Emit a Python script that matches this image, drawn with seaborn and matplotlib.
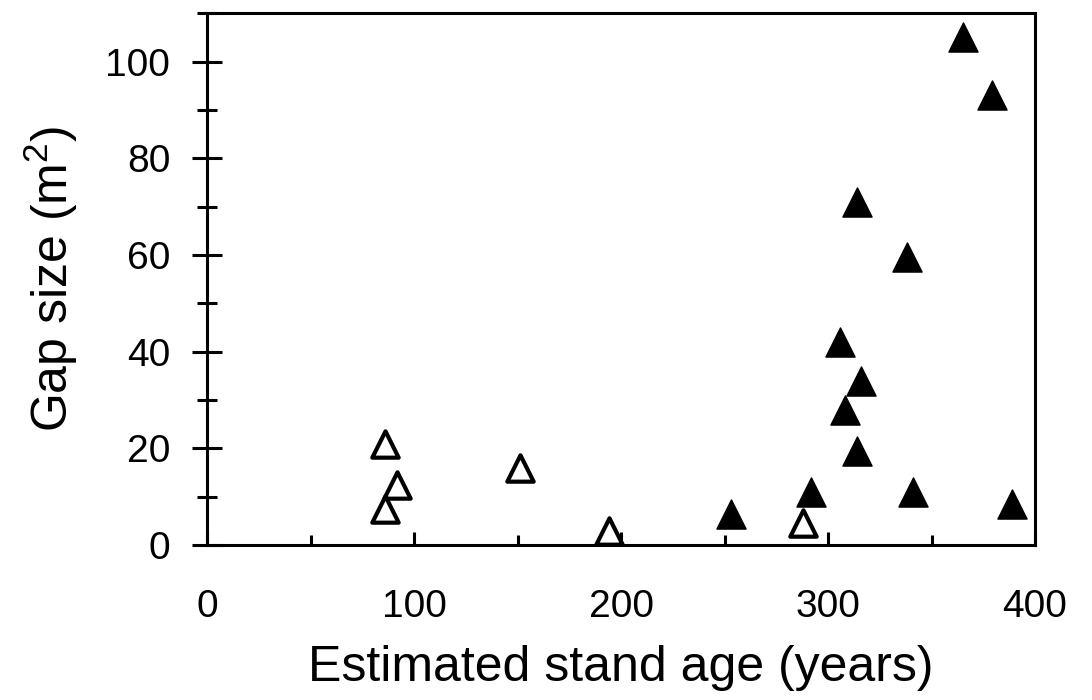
"""
Gap size vs estimated stand age: open triangles (younger stands)
and filled triangles (older stands).
"""
import matplotlib
matplotlib.use('Agg')
import matplotlib.pyplot as plt
from matplotlib.ticker import MultipleLocator
import seaborn as sns

# Datos
open_age = [86, 92, 86, 151, 194, 288]
open_gap = [21, 12.5, 7.5, 16, 3, 4.5]

filled_age = [365, 379, 314, 338, 306, 316, 308, 314, 292, 341, 389, 253]
filled_gap = [105, 93, 71, 59.5, 42, 34, 28, 19.5, 11, 11, 8.5, 6.5]

x_ticks = [0, 100, 200, 300, 400]
y_ticks = [0, 20, 40, 60, 80, 100]

sns.set_style('white')
plt.rcParams['font.family'] = ['Liberation Sans', 'DejaVu Sans']
plt.rcParams['mathtext.default'] = 'regular'
plt.rcParams['text.color'] = 'black'
plt.rcParams['axes.labelcolor'] = 'black'

fig = plt.figure(figsize=(10.92, 7.0), dpi=100)
ax = fig.add_axes([0.1896, 0.2214, 0.9478 - 0.1896, 0.981 - 0.2214])

sns.scatterplot(x=open_age, y=open_gap, marker='^', s=360,
                facecolor='white', edgecolor='black', linewidth=3.0,
                ax=ax, zorder=3, clip_on=False)
sns.scatterplot(x=filled_age, y=filled_gap, marker='^', s=440,
                color='black', edgecolor='black', linewidth=1,
                ax=ax, zorder=3, clip_on=False)

ax.set_xlim(0, 400)
ax.set_ylim(0, 110)
ax.set_xticks(x_ticks)
ax.set_yticks(y_ticks)
ax.xaxis.set_minor_locator(MultipleLocator(50))
ax.yaxis.set_minor_locator(MultipleLocator(10))

for side in ['left', 'right', 'top', 'bottom']:
    ax.spines[side].set_visible(True)
    ax.spines[side].set_linewidth(2.2)
    ax.spines[side].set_color('black')

ax.tick_params(axis='x', which='both', bottom=True, top=False, color='black')
ax.tick_params(axis='y', which='both', left=True, right=False, color='black')
ax.tick_params(axis='x', which='major', direction='in', length=9.5, width=2.2,
               labelsize=28, pad=32, labelcolor='black')
ax.tick_params(axis='x', which='minor', direction='in', length=7, width=2.2)
ax.tick_params(axis='y', which='major', direction='inout', length=21, width=2.2,
               labelsize=28, pad=16, labelcolor='black')
ax.tick_params(axis='y', which='minor', direction='inout', length=14, width=2.2)

ax.set_xlabel('Estimated stand age (years)', fontsize=36, labelpad=14)
ax.set_ylabel('Gap size (m$^2$)', fontsize=36, labelpad=18)

plt.savefig('out.png', dpi=100)
plt.close()
